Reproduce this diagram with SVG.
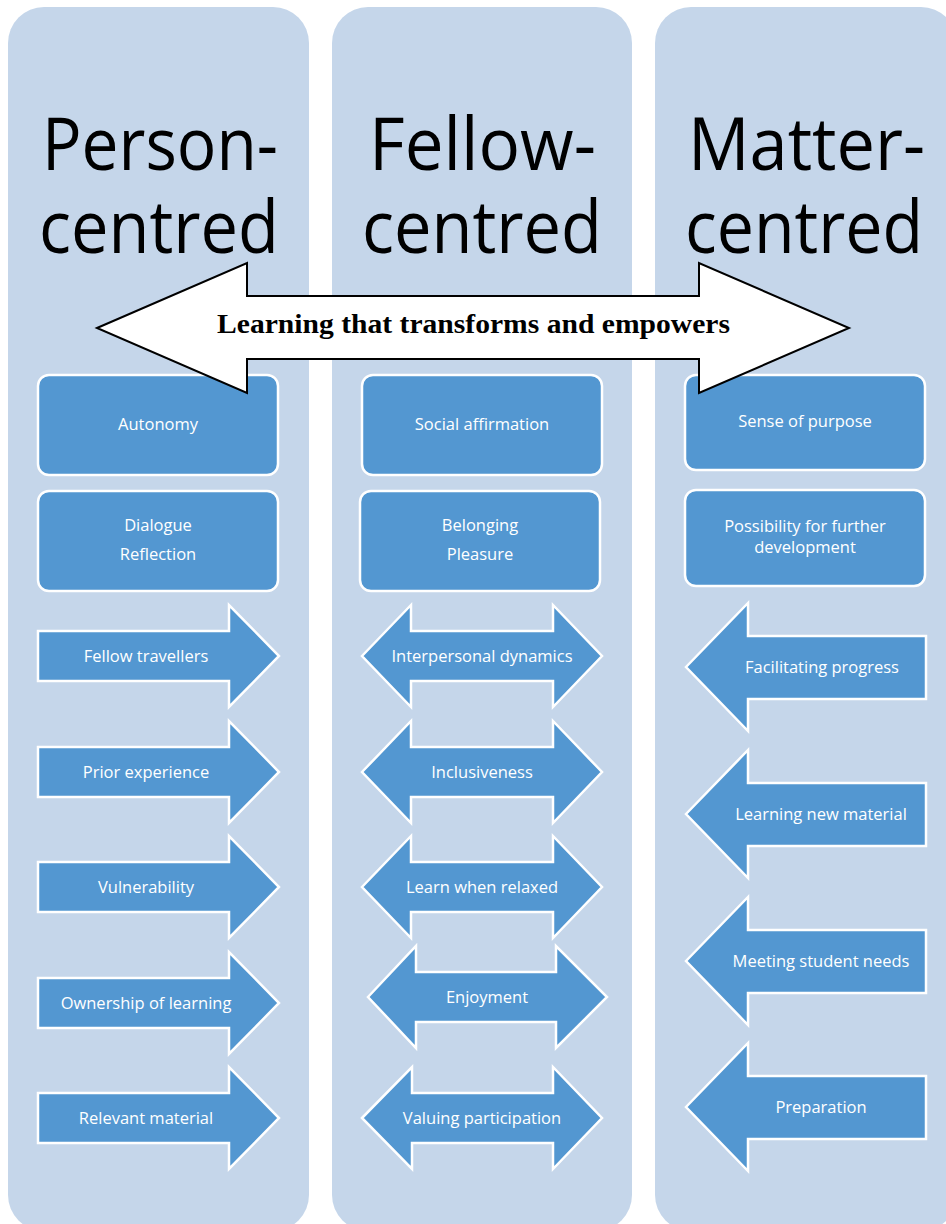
<svg xmlns="http://www.w3.org/2000/svg" width="946" height="1224" viewBox="0 0 946 1224">
<style>
.col{fill:#c5d6ea;}
.box{fill:#5397d1;stroke:#ffffff;stroke-width:2.5;}
.lbl{font-family:"Open Sans","Noto Sans",sans-serif;font-size:16.5px;fill:#ffffff;text-anchor:middle;}
.hdr{font-family:"Open Sans","Noto Sans",sans-serif;font-size:74px;fill:#000000;text-anchor:middle;}
.ban{font-family:"Liberation Serif","Times New Roman",serif;font-weight:bold;font-size:28px;fill:#000000;text-anchor:middle;}
</style>
<rect width="946" height="1224" fill="#ffffff"/>
<g id="columns">
<rect id="col-person" class="col" x="8" y="7" width="301" height="1224" rx="36"/>
<rect id="col-fellow" class="col" x="332" y="7" width="300" height="1224" rx="36"/>
<rect id="col-matter" class="col" x="655" y="7" width="302" height="1224" rx="36"/>
</g>
<g id="headers">
<text class="hdr" x="160" y="170" textLength="236" lengthAdjust="spacingAndGlyphs">Person-</text>
<text class="hdr" x="159" y="253" textLength="240" lengthAdjust="spacingAndGlyphs">centred</text>
<text class="hdr" x="482.5" y="170" textLength="227" lengthAdjust="spacingAndGlyphs">Fellow-</text>
<text class="hdr" x="482" y="253" textLength="240" lengthAdjust="spacingAndGlyphs">centred</text>
<text class="hdr" x="806.5" y="170" textLength="237" lengthAdjust="spacingAndGlyphs">Matter-</text>
<text class="hdr" x="804" y="253" textLength="238" lengthAdjust="spacingAndGlyphs">centred</text>
</g>
<g id="person-boxes">
<g id="autonomy"><rect class="box" x="38" y="375" width="240" height="100" rx="11"/><text class="lbl" x="158" y="430">Autonomy</text></g>
<g id="dialogue-reflection"><rect class="box" x="38" y="491" width="240" height="100" rx="11"/><text class="lbl" x="158" y="531">Dialogue</text><text class="lbl" x="158" y="560">Reflection</text></g>
</g>
<g id="fellow-boxes">
<g id="social-affirmation"><rect class="box" x="362" y="375" width="240" height="100" rx="11"/><text class="lbl" x="482" y="430">Social affirmation</text></g>
<g id="belonging-pleasure"><rect class="box" x="360" y="491" width="240" height="100" rx="11"/><text class="lbl" x="480" y="531">Belonging</text><text class="lbl" x="480" y="560">Pleasure</text></g>
</g>
<g id="matter-boxes">
<g id="sense-of-purpose"><rect class="box" x="685" y="375" width="240" height="95" rx="11"/><text class="lbl" x="805" y="427">Sense of purpose</text></g>
<g id="further-development"><rect class="box" x="685" y="490" width="240" height="96" rx="11"/><text class="lbl" x="805" y="532">Possibility for further</text><text class="lbl" x="805" y="553">development</text></g>
</g>
<g id="person-arrows">
<g id="fellow-travellers"><polygon class="box" points="38,631 229,631 229,605 279,656 229,707 229,681 38,681"/><text class="lbl" x="146" y="662">Fellow travellers</text></g>
<g id="prior-experience"><polygon class="box" points="38,747 229,747 229,721 279,772 229,823 229,797 38,797"/><text class="lbl" x="146" y="778">Prior experience</text></g>
<g id="vulnerability"><polygon class="box" points="38,862 229,862 229,836 279,887 229,938 229,912 38,912"/><text class="lbl" x="146" y="893">Vulnerability</text></g>
<g id="ownership-of-learning"><polygon class="box" points="38,978 229,978 229,952 279,1003 229,1054 229,1028 38,1028"/><text class="lbl" x="146" y="1009">Ownership of learning</text></g>
<g id="relevant-material"><polygon class="box" points="38,1093 229,1093 229,1067 279,1118 229,1169 229,1143 38,1143"/><text class="lbl" x="146" y="1124">Relevant material</text></g>
</g>
<g id="fellow-arrows">
<g id="interpersonal-dynamics"><polygon class="box" points="362,656 411,605 411,631 553,631 553,605 602,656 553,707 553,681 411,681 411,707"/><text class="lbl" x="482" y="662">Interpersonal dynamics</text></g>
<g id="inclusiveness"><polygon class="box" points="362,772 411,721 411,747 553,747 553,721 602,772 553,823 553,797 411,797 411,823"/><text class="lbl" x="482" y="778">Inclusiveness</text></g>
<g id="learn-when-relaxed"><polygon class="box" points="362,887 411,836 411,862 553,862 553,836 602,887 553,938 553,912 411,912 411,938"/><text class="lbl" x="482" y="893">Learn when relaxed</text></g>
<g id="enjoyment"><polygon class="box" points="368,997 416,946 416,972 556,972 556,946 607,997 556,1048 556,1022 416,1022 416,1048"/><text class="lbl" x="487" y="1003">Enjoyment</text></g>
<g id="valuing-participation"><polygon class="box" points="362,1118 412,1067 412,1093 553,1093 553,1067 602,1118 553,1169 553,1143 412,1143 412,1169"/><text class="lbl" x="482" y="1124">Valuing participation</text></g>
</g>
<g id="matter-arrows">
<g id="facilitating-progress"><polygon class="box" points="686,667 748,603 748,636 926,636 926,699 748,699 748,731"/><text class="lbl" x="822" y="673">Facilitating progress</text></g>
<g id="learning-new-material"><polygon class="box" points="686,814 748,750 748,783 926,783 926,846 748,846 748,878"/><text class="lbl" x="821" y="820">Learning new material</text></g>
<g id="meeting-student-needs"><polygon class="box" points="686,961 748,897 748,930 926,930 926,993 748,993 748,1025"/><text class="lbl" x="821" y="967">Meeting student needs</text></g>
<g id="preparation"><polygon class="box" points="686,1107 748,1043 748,1076 926,1076 926,1139 748,1139 748,1171"/><text class="lbl" x="821" y="1113">Preparation</text></g>
</g>
<g id="connectors"></g>
<g id="banner">
<polygon points="97,328 247,263 247,296 699,296 699,263 849,328 699,393 699,359 247,359 247,393" fill="#ffffff" stroke="#000000" stroke-width="2"/>
<text class="ban" x="473.5" y="333" textLength="513" lengthAdjust="spacingAndGlyphs">Learning that transforms and empowers</text>
</g>
</svg>
